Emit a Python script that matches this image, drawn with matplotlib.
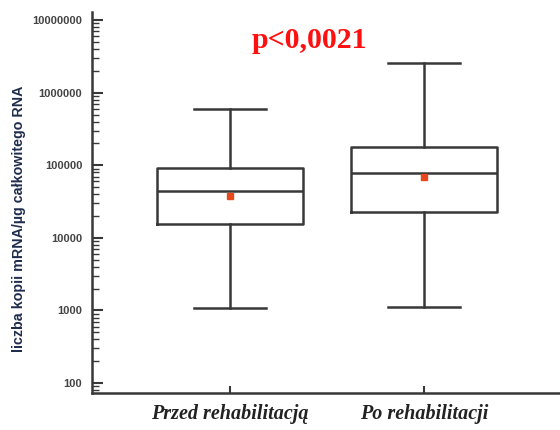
import numpy as np
import matplotlib.pyplot as plt
from matplotlib.ticker import LogLocator, FixedLocator, NullFormatter

# summary statistics per group (copies / ug total RNA)
groups = ["Przed rehabilitacją", "Po rehabilitacji"]
whisker_low = [1080, 1100]
q1 = [15500, 22600]
median = [44000, 78000]
q3 = [91000, 178000]
whisker_high = [595000, 2560000]
mean = [37700, 68700]

y_ticks = [100, 1000, 10000, 100000, 1000000, 10000000]
p_text = "p<0,0021"

LINE = "#383838"

fig = plt.figure(figsize=(5.6, 4.3), dpi=100)
ax = fig.add_axes([0.1643, 0.086, 0.8357, 0.886])

stats = []
for i, g in enumerate(groups):
    stats.append({
        "label": g,
        "whislo": whisker_low[i],
        "q1": q1[i],
        "med": median[i],
        "q3": q3[i],
        "whishi": whisker_high[i],
        "mean": mean[i],
        "fliers": [],
    })

line_kw = dict(color=LINE, linewidth=1.8)
ax.bxp(
    stats,
    positions=[1, 2],
    widths=0.75,
    showmeans=True,
    showfliers=False,
    boxprops=line_kw,
    medianprops=line_kw,
    whiskerprops=line_kw,
    capprops=line_kw,
    capwidths=0.37,
    meanprops=dict(marker="s", markersize=5, markerfacecolor="#e8481c",
                   markeredgecolor="#e8481c"),
)

ax.set_yscale("log")
ax.set_ylim(73, 1.29e7)
ax.set_xlim(0.29, 2.70)

ax.yaxis.set_major_locator(FixedLocator(y_ticks))
ax.set_yticklabels([str(v) for v in y_ticks], fontsize=8,
                   fontweight="bold", color="#444444", family="Liberation Sans")
ax.yaxis.set_minor_locator(LogLocator(base=10, subs=np.arange(2, 10)))
ax.yaxis.set_minor_formatter(NullFormatter())
ax.tick_params(axis="y", which="major", direction="in", length=8, width=1.5,
               color=LINE, pad=7)
ax.tick_params(axis="y", which="minor", direction="in", length=5, width=1,
               color=LINE)

ax.set_xticks([1, 2])
ax.set_xticklabels(groups, fontsize=14.5, fontweight="bold", style="italic",
                   family="Liberation Serif", color="#222222")
ax.tick_params(axis="x", direction="in", length=5, width=1.5, color=LINE, pad=8)

for s in ["top", "right"]:
    ax.spines[s].set_visible(False)
for s in ["left", "bottom"]:
    ax.spines[s].set_linewidth(1.8)
    ax.spines[s].set_color(LINE)

fig.text(0.034, 0.49, "liczba kopii mRNA/µg całkowitego RNA", rotation=90,
         ha="center", va="center", fontsize=10.3, fontweight="bold",
         color="#1f2d4d", family="Liberation Sans")

fig.text(0.553, 0.905, p_text, ha="center", va="center", fontsize=21.5,
         fontweight="bold", color="#ff1010", family="Liberation Serif")

fig.savefig("out.png", dpi=100)
